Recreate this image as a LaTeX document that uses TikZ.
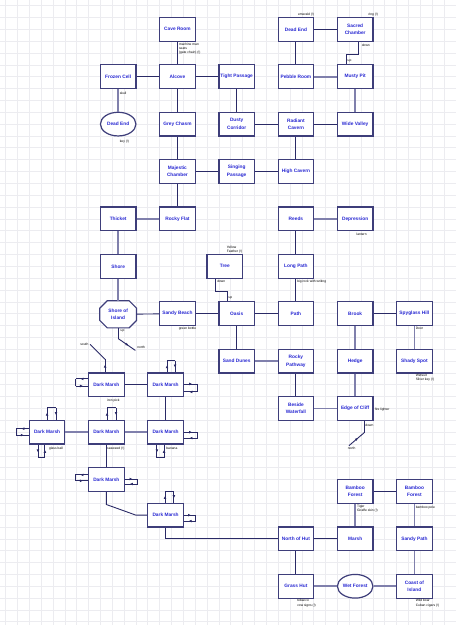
\documentclass[tikz,border=0pt]{standalone}
\usepackage{fontspec}
\setmainfont{Liberation Sans}
\usetikzlibrary{shapes.geometric,decorations.markings,calc,arrows.meta}
\definecolor{gridc}{RGB}{236,236,240}
\definecolor{boxc}{RGB}{62,62,122}
\definecolor{txtc}{RGB}{40,40,210}
\definecolor{darkc}{RGB}{42,42,102}
\definecolor{lightc}{RGB}{128,128,172}
\newcommand\mkloop[4]{\draw[lp,mid] #1 -- #2; \draw[lp] #2 -- #3; \draw[lp,mid] #3 -- #4;}
\begin{document}
\begin{tikzpicture}[x=11.85pt,y=-11.85pt,
 room/.style={draw=boxc,line width=1.2pt,fill=white,minimum width=35.55pt,minimum height=23.7pt,inner sep=0pt,align=center,font=\fontsize{4.8}{7.5}\selectfont\bfseries,text=txtc},
 ovalroom/.style={room,ellipse},
 octroom/.style={room,draw=none,fill=none,minimum height=26pt},
 lbl/.style={font=\fontsize{3.3}{4.2}\selectfont,inner sep=0pt,text=black,align=left},
 dk/.style={draw=darkc,line width=0.9pt},
 lt/.style={draw=lightc,line width=1.8pt},
 lp/.style={draw=darkc,line width=0.9pt},
 mid/.style={postaction={decorate,decoration={markings,mark=at position 0.6 with {\arrow{Latex[length=3pt,width=2.8pt]}}}}}
]
\useasboundingbox (-0.4726,-0.4726) rectangle (38.008,52.27);
\fill[white] (-0.4726,-0.4726) rectangle (38.008,52.27);
\foreach \i in {0,...,38} \draw[gridc,line width=0.7pt] (\i,-0.4726) -- (\i,52.27);
\foreach \j in {0,...,52} \draw[gridc,line width=0.7pt] (-0.4726,\j) -- (38.008,\j);

% rooms
\node[room] (caveroom) at (14.5,2) {Cave Room};
\node[room] (deadendb) at (24.5,2) {Dead End};
\node[room] (sacred) at (29.5,2) {Sacred\\Chamber};
\node[room] (frozen) at (9.5,6) {Frozen Cell};
\node[room] (alcove) at (14.5,6) {Alcove};
\node[room] (tight) at (19.5,6) {Tight Passage};
\node[room] (pebble) at (24.5,6) {Pebble Room};
\node[room] (musty) at (29.5,6) {Musty Pit};
\node[ovalroom] (deadenda) at (9.5,10) {Dead End};
\node[room] (grey) at (14.5,10) {Grey Chasm};
\node[room] (dusty) at (19.5,10) {Dusty\\Corridor};
\node[room] (radiant) at (24.5,10) {Radiant\\Cavern};
\node[room] (wide) at (29.5,10) {Wide Valley};
\node[room] (majestic) at (14.5,14) {Majestic\\Chamber};
\node[room] (singing) at (19.5,14) {Singing\\Passage};
\node[room] (high) at (24.5,14) {High Cavern};
\node[room] (thicket) at (9.5,18) {Thicket};
\node[room] (rockyflat) at (14.5,18) {Rocky Flat};
\node[room] (reeds) at (24.5,18) {Reeds};
\node[room] (depression) at (29.5,18) {Depression};
\node[room] (shore) at (9.5,22) {Shore};
\node[room] (tree) at (18.5,22) {Tree};
\node[room] (longpath) at (24.5,22) {Long Path};
\node[octroom] (shoreisl) at (9.5,26.05) {};
\draw[draw=boxc,line width=1.2pt,fill=white]
  ($(shoreisl.north west)+(7.5pt,0)$) -- ($(shoreisl.north east)+(-7.5pt,0)$)
  -- ($(shoreisl.north east)+(0,-7.5pt)$) -- ($(shoreisl.south east)+(0,7.5pt)$)
  -- ($(shoreisl.south east)+(-7.5pt,0)$) -- ($(shoreisl.south west)+(7.5pt,0)$)
  -- ($(shoreisl.south west)+(0,7.5pt)$) -- ($(shoreisl.north west)+(0,-7.5pt)$) -- cycle;
\node[room,draw=none,fill=none] at (shoreisl.center) {Shore of\\Island};
\node[room] (sandybeach) at (14.5,26) {Sandy Beach};
\node[room] (oasis) at (19.5,26) {Oasis};
\node[room] (path) at (24.5,26) {Path};
\node[room] (brook) at (29.5,26) {Brook};
\node[room] (spyglass) at (34.5,26) {Spyglass Hill};
\node[room] (sanddunes) at (19.5,30) {Sand Dunes};
\node[room] (rockypath) at (24.5,30) {Rocky\\Pathway};
\node[room] (hedge) at (29.5,30) {Hedge};
\node[room] (shady) at (34.5,30) {Shady Spot};
\node[room] (dm1) at (8.5,32) {Dark Marsh};
\node[room] (dm2) at (13.5,32) {Dark Marsh};
\node[room] (beside) at (24.5,34) {Beside\\Waterfall};
\node[room] (edge) at (29.5,34) {Edge of Cliff};
\node[room] (dm3) at (3.5,36) {Dark Marsh};
\node[room] (dm4) at (8.5,36) {Dark Marsh};
\node[room] (dm5) at (13.5,36) {Dark Marsh};
\node[room] (dm6) at (8.5,40) {Dark Marsh};
\node[room] (bamboo1) at (29.5,41) {Bamboo\\Forest};
\node[room] (bamboo2) at (34.5,41) {Bamboo\\Forest};
\node[room] (dm7) at (13.5,43) {Dark Marsh};
\node[room] (northhut) at (24.5,45) {North of Hut};
\node[room] (marsh) at (29.5,45) {Marsh};
\node[room] (sandypath) at (34.5,45) {Sandy Path};
\node[room] (grasshut) at (24.5,49) {Grass Hut};
\node[ovalroom] (wetforest) at (29.5,49) {Wet Forest};
\node[room] (coast) at (34.5,49) {Coast of\\Island};

% connectors
\draw[dk] (caveroom) -- (alcove);
\draw[dk] (frozen) -- (alcove);
\draw[dk] (alcove) -- (tight);
\draw[lt] (frozen) -- (deadenda);
\draw[dk] (alcove) -- (grey);
\draw[dk] (tight) -- (dusty);
\draw[dk] (dusty) -- (radiant);
\draw[dk] (radiant) -- (wide);
\draw[dk] (deadendb) -- (sacred);
\draw[dk] (deadendb) -- (pebble);
\draw[lt] (pebble) -- (musty);
\draw[lt] (musty) -- (wide);
\draw[dk] (radiant) -- (high);
\draw[dk] (grey) -- (majestic);
\draw[dk] (majestic) -- (singing);
\draw[dk] (singing) -- (high);
\draw[dk] (majestic) -- (rockyflat);
\draw[lt] (rockyflat) -- (thicket);
\draw[lt] (thicket) -- (shore);
\draw[lt] (shore) -- (shoreisl);
\draw[dk] (shoreisl) -- (sandybeach);
\draw[dk] (sandybeach) -- (oasis);
\draw[dk] (oasis) -- (path);
\draw[lt] (reeds) -- (depression);
\draw[dk] (reeds) -- (longpath);
\draw[dk] (longpath) -- (path);
\draw[dk] (oasis) -- (sanddunes);
\draw[lt] (sanddunes) -- (rockypath);
\draw[dk] (rockypath) -- (beside);
\draw[lt] (beside) -- (edge);
\draw[lt] (brook) -- (hedge);
\draw[lt] (hedge) -- (edge);
\draw[dk] (brook) -- (spyglass);
\draw[lt] (spyglass) -- (shady);
\draw[dk] (dm1) -- (dm2);
\draw[dk] (dm2) -- (dm5);
\draw[lt] (dm3) -- (dm4);
\draw[lt] (dm4) -- (dm5);
\draw[dk] (dm4) -- (dm6);
\draw[dk] (dm6.south) -- ++(0,1.05) -- ($(dm7.west)+(-0.95,0)$) -- (dm7.west);
\draw[dk] (dm7.south) |- (northhut.west);
\draw[dk] (northhut) -- (marsh);
\draw[dk] (northhut) -- (grasshut);
\draw[lt] (marsh) -- (bamboo1);
\draw[dk] (bamboo1) -- (bamboo2);
\draw[lt] (bamboo2) -- (sandypath);
\draw[lt] (sandypath) -- (coast);
\draw[lt] (grasshut) -- (wetforest);
\draw[lt] (wetforest) -- (coast);
\draw[dk] ($(sacred.south)+(0.25,0)$) -- ++(0,1.05) -| ($(musty.north)+(-0.77,0)$);
\draw[dk] ($(tree.south)+(-0.75,0)$) -- ++(0,1.1) -| ($(oasis.north)+(-0.8,0)$);

% stubs
\coordinate (si1) at ($(shoreisl.south)+(0,0.9)$);
\coordinate (si2) at ($(si1)+(1.45,1.0)$);
\draw[dk] (shoreisl.south) -- (si1);
\draw[dk,mid] (si1) -- (si2);
\coordinate (da0) at ($(dm1.north)+(-0.1,0)$);
\coordinate (da1) at ($(da0)+(0,-1.1)$);
\coordinate (da2) at ($(da1)+(-1.27,-1.26)$);
\draw[dk,mid] (da0) -- (da1);
\draw[dk] (da1) -- (da2);
\coordinate (ec0) at ($(edge.south)+(0.75,0)$);
\coordinate (ec1) at ($(ec0)+(0,1.0)$);
\coordinate (ec2) at ($(ec1)+(-1.27,1.08)$);
\draw[dk] (ec0) -- (ec1);
\draw[dk,mid] (ec2) -- (ec1);

% self loops
\mkloop{($(dm1.west)+(0,-0.5)$)}{($(dm1.west)+(-1.05,-0.5)$)}{($(dm1.west)+(-1.05,0.1)$)}{($(dm1.west)+(0,0.1)$)}
\mkloop{($(dm2.north)+(0.12,0)$)}{($(dm2.north)+(0.12,-1)$)}{($(dm2.north)+(0.8,-1)$)}{($(dm2.north)+(0.8,0)$)}
\mkloop{($(dm2.east)+(0,-0.07)$)}{($(dm2.east)+(1.15,-0.07)$)}{($(dm2.east)+(1.15,0.6)$)}{($(dm2.east)+(0,0.6)$)}
\mkloop{($(dm3.north)+(0,0)$)}{($(dm3.north)+(0,-1)$)}{($(dm3.north)+(0.75,-1)$)}{($(dm3.north)+(0.75,0)$)}
\mkloop{($(dm3.west)+(0,-0.3)$)}{($(dm3.west)+(-1.04,-0.3)$)}{($(dm3.west)+(-1.04,0.25)$)}{($(dm3.west)+(0,0.25)$)}
\mkloop{($(dm3.south)+(-0.77,0)$)}{($(dm3.south)+(-0.77,1.1)$)}{($(dm3.south)+(-0.18,1.1)$)}{($(dm3.south)+(-0.18,0)$)}
\mkloop{($(dm4.north)+(0.06,0)$)}{($(dm4.north)+(0.06,-1)$)}{($(dm4.north)+(0.82,-1)$)}{($(dm4.north)+(0.82,0)$)}
\mkloop{($(dm5.east)+(0,0)$)}{($(dm5.east)+(1.15,0)$)}{($(dm5.east)+(1.15,0.5)$)}{($(dm5.east)+(0,0.5)$)}
\mkloop{($(dm5.south)+(-0.73,0)$)}{($(dm5.south)+(-0.73,1.1)$)}{($(dm5.south)+(-0.13,1.1)$)}{($(dm5.south)+(-0.13,0)$)}
\mkloop{($(dm6.west)+(0,-0.4)$)}{($(dm6.west)+(-1.06,-0.4)$)}{($(dm6.west)+(-1.06,0.1)$)}{($(dm6.west)+(0,0.1)$)}
\mkloop{($(dm6.east)+(0,-0.05)$)}{($(dm6.east)+(1.1,-0.05)$)}{($(dm6.east)+(1.1,0.37)$)}{($(dm6.east)+(0,0.37)$)}
\mkloop{($(dm7.north)+(-0.05,0)$)}{($(dm7.north)+(-0.05,-0.95)$)}{($(dm7.north)+(0.7,-0.95)$)}{($(dm7.north)+(0.7,0)$)}
\mkloop{($(dm7.east)+(0,0)$)}{($(dm7.east)+(1.0,0)$)}{($(dm7.east)+(1.0,0.5)$)}{($(dm7.east)+(0,0.5)$)}

% labels
\node[lbl,anchor=north west] (l1) at (14.62,3.15) {machine man\\seats\\(gate chain) (!)};
\node[lbl,anchor=north west] (l2) at (9.62,7.25) {skull};
\node[lbl,anchor=north west] (l3) at (9.62,11.3) {key (!)};
\node[lbl,anchor=south east] (l4) at (26.05,0.95) {emerald (!)};
\node[lbl,anchor=south east] (l5) at (31.45,0.95) {ring (!)};
\node[lbl,anchor=west] (l6) at (30.05,3.35) {down};
\node[lbl,anchor=west] (l7) at (28.85,4.65) {up};
\node[lbl,anchor=south west] (l8) at (18.65,20.9) {Yellow\\Feather (!)};
\node[lbl,anchor=west] (l9) at (17.85,23.25) {down};
\node[lbl,anchor=west] (l10) at (18.8,24.7) {up};
\node[lbl,anchor=north west] (l11) at (29.6,19.2) {lantern};
\node[lbl,anchor=north west] (l12) at (24.6,23.15) {big rock with writing};
\node[lbl,anchor=north west] (l13) at (14.6,27.15) {green bottle};
\node[lbl,anchor=west] (l14) at (9.7,27.45) {up};
\node[lbl,anchor=west] (l15) at (11.1,28.85) {north};
\node[lbl,anchor=east] (l16) at (7.0,28.55) {south};
\node[lbl,anchor=north west] (l17) at (34.6,27.1) {Door};
\node[lbl,anchor=north west] (l18) at (34.6,31.1) {Wetsuit\\Silver key (!)};
\node[lbl,anchor=west] (l19) at (31.15,34.1) {fire lighter};
\node[lbl,anchor=west] (l20) at (30.35,35.4) {down};
\node[lbl,anchor=north] (l21) at (29.2,37.25) {north};
\node[lbl,anchor=north west] (l22) at (8.55,33.15) {iron pick};
\node[lbl,anchor=north west] (l23) at (3.65,37.2) {glass ball};
\node[lbl,anchor=north west] (l24) at (8.55,37.2) {seaweed (!)};
\node[lbl,anchor=north west] (l25) at (13.55,37.2) {banana};
\node[lbl,anchor=north west] (l26) at (29.65,42.1) {Tiger\\Giraffe skin (!)};
\node[lbl,anchor=north west] (l27) at (34.6,42.2) {bamboo pole};
\node[lbl,anchor=north west] (l28) at (24.6,50.1) {tobacco\\cow signs (!)};
\node[lbl,anchor=north west] (l29) at (34.6,50.1) {Wild boar\\Cuban cigars (!)};
\end{tikzpicture}
\end{document}
